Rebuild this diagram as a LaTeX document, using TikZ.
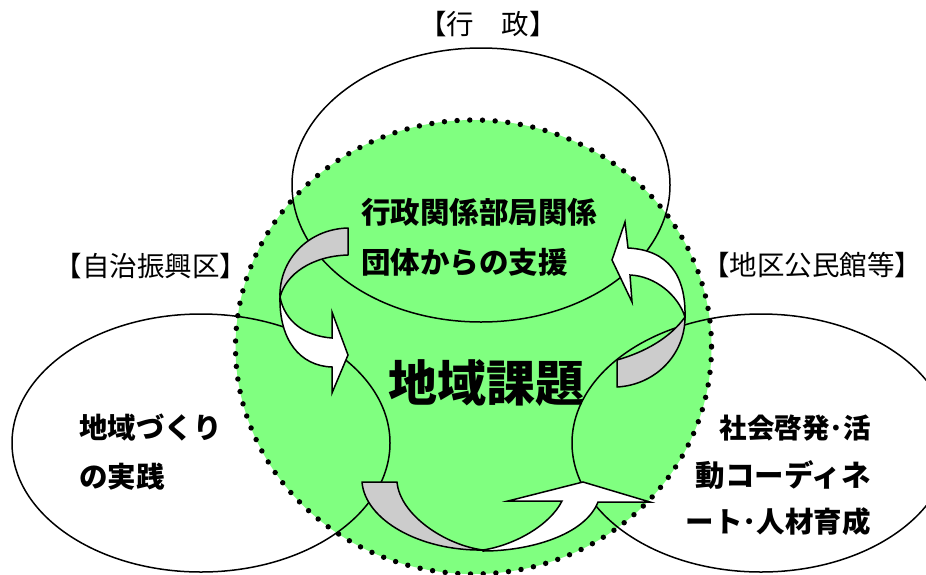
\documentclass[tikz,border=0pt]{standalone}
\usepackage{fontspec}
\newfontfamily\jp{Noto Sans CJK JP}
\definecolor{areagreen}{RGB}{128,255,128}
\definecolor{bandgray}{RGB}{204,204,204}
\begin{document}
\begin{tikzpicture}[x=1pt,y=-1pt,
  outline/.style={line width=1.5pt},
  dotborder/.style={line width=5.4pt,line cap=round,dash pattern=on 0pt off 12.7pt},
  grayband/.style={fill=bandgray,draw=black,line width=1.5pt,line join=round},
  whiteband/.style={fill=white,draw=black,line width=1.5pt,line join=miter},
  lbl/.style={font=\jp\fontsize{27.5}{27.5}\selectfont,inner sep=0pt},
  boldtxt/.style={font=\jp\bfseries\fontsize{28.5}{28.5}\selectfont,inner sep=0pt},
  toptxt/.style={font=\jp\bfseries\fontsize{29.5}{29.5}\selectfont,inner sep=0pt,anchor=west},
]
\useasboundingbox (0,0) rectangle (926,574);
% green area
\fill[areagreen] (473.5,347) ellipse [x radius=238, y radius=227];
% three ellipses
\draw[outline] (481,185) ellipse [x radius=189, y radius=137];
\draw[outline] (201,443) ellipse [x radius=189, y radius=129];
\draw[outline] (761,443) ellipse [x radius=189, y radius=129];
% dotted border
\draw[dotborder] (473.5,347) ellipse [x radius=238, y radius=227];
% arrow A (upper left)
\draw[grayband] (348,228) .. controls (308,229) and (279,260) .. (280,297)
  .. controls (286,274) and (312,256) .. (348,255) -- cycle;
\draw[whiteband] (280,297) .. controls (279,340) and (300,366) .. (332,367)
  -- (332,393) -- (348,355) -- (332,312) -- (332,338)
  .. controls (305,336) and (285,322) .. (280,297) -- cycle;
% arrow B (upper right)
\draw[grayband] (617,387) .. controls (655,385) and (685,355) .. (685,317)
  .. controls (670,338) and (645,352) .. (617,360) -- cycle;
\draw[whiteband] (685,317) .. controls (686,275) and (668,250) .. (628,248)
  -- (625,222) -- (612,260) -- (632,302) -- (630,275)
  .. controls (655,276) and (678,295) .. (685,317) -- cycle;
% arrow C (bottom)
\draw[grayband] (362,482) -- (397,482) .. controls (400,515) and (445,545) .. (483,550)
  .. controls (420,551) and (365,520) .. (362,482) -- cycle;
\draw[whiteband] (483,550) .. controls (515,545) and (550,525) .. (562,501)
  -- (508,501) -- (583,482) -- (650,502) -- (598,502)
  .. controls (585,535) and (530,551) .. (483,551) -- cycle;
% labels
\node[lbl] (gyosei) at (488,24) {【行　政】};
\node[lbl] (jichi) at (151,266) {【自治振興区】};
\node[lbl] (kominkan) at (812,265) {【地区公民館等】};
% texts
\node[toptxt] (shienA) at (361,212) {行政関係部局関係};
\node[toptxt] (shienB) at (361,262) {団体からの支援};
\node[font=\jp\bfseries\fontsize{49}{49}\selectfont,inner sep=0pt] (kadai) at (486,383) {地域課題};
\node[boldtxt,anchor=west] (jissenA) at (79,428) {地域づくり};
\node[boldtxt,anchor=west] (jissenB) at (79,477) {の実践};
\node[boldtxt,anchor=east,font=\jp\bfseries\fontsize{27.5}{27.5}\selectfont] (keihatsuA) at (871,428) {社会啓発･活};
\node[boldtxt,anchor=east,font=\jp\bfseries\fontsize{29.5}{29.5}\selectfont] (keihatsuB) at (871,475) {動コーディネ};
\node[boldtxt,anchor=east] (keihatsuC) at (871,522) {ート･人材育成};
\end{tikzpicture}
\end{document}
